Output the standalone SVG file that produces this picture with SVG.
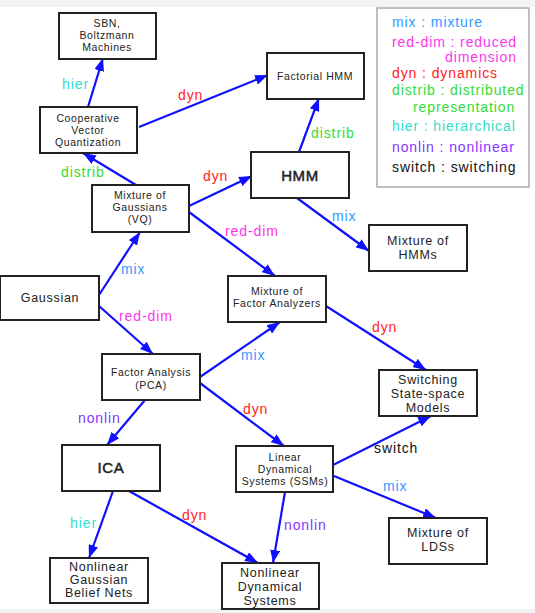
<svg xmlns="http://www.w3.org/2000/svg" width="535" height="613" viewBox="0 0 535 613">
<defs>
<marker id="ah" markerUnits="userSpaceOnUse" markerWidth="14" markerHeight="10" refX="13" refY="5" orient="auto">
<path d="M0,0 L13,5 L0,10 Z" fill="#1010ff"/>
</marker>
<style>
.box{fill:#fff;stroke:#222;stroke-width:2}
.t{font-family:"Liberation Sans",Arial,sans-serif;fill:#222;text-anchor:middle}
.s{font-size:10.5px;letter-spacing:0.6px}
.m{font-size:12.5px;letter-spacing:0.7px}
.b{font-size:15px;letter-spacing:0.6px;stroke:#222;stroke-width:0.5}
.e{stroke:#1010ff;stroke-width:2.2;fill:none;marker-end:url(#ah)}
.l{font-family:"Liberation Sans",Arial,sans-serif;font-size:14px;letter-spacing:0.9px}
.mix{fill:#3399ff}.red{fill:#ff33ee}.dyn{fill:#ff2222}.dis{fill:#33dd33}.hie{fill:#33ddcc}.non{fill:#8833ff}.sw{fill:#111}
</style>
</defs>
<rect x="0" y="0" width="535" height="613" fill="#fff"/>
<rect x="0" y="0" width="535" height="7" fill="#f2f3f5"/>
<rect x="0" y="609" width="535" height="4" fill="#f2f3f5"/>

<g id="legend">
<rect x="377" y="8" width="152" height="179" fill="#fff" stroke="#aaa" stroke-width="1.5"/>
<text class="l mix" x="392" y="27">mix : mixture</text>
<text class="l red" x="392" y="47">red-dim : reduced</text>
<text class="l red" x="445" y="62">dimension</text>
<text class="l dyn" x="392" y="78">dyn : dynamics</text>
<text class="l dis" x="392" y="95">distrib : distributed</text>
<text class="l dis" x="413" y="112">representation</text>
<text class="l hie" x="392" y="131">hier : hierarchical</text>
<text class="l non" x="392" y="152">nonlin : nonlinear</text>
<text class="l sw" x="392" y="172">switch : switching</text>
</g>

<g id="connectors">
<line class="e" x1="88" y1="107" x2="103" y2="58"/>
<line class="e" x1="139" y1="127" x2="268" y2="75"/>
<line class="e" x1="136" y1="185" x2="83" y2="153"/>
<line class="e" x1="189" y1="206" x2="252" y2="176"/>
<line class="e" x1="299" y1="152" x2="319" y2="98"/>
<line class="e" x1="297" y1="198" x2="369" y2="251"/>
<line class="e" x1="189" y1="212" x2="275" y2="276"/>
<line class="e" x1="99" y1="295" x2="140" y2="232"/>
<line class="e" x1="99" y1="306" x2="153" y2="354"/>
<line class="e" x1="200" y1="377" x2="280" y2="322"/>
<line class="e" x1="326" y1="306" x2="426" y2="370"/>
<line class="e" x1="200" y1="383" x2="284" y2="446"/>
<line class="e" x1="145" y1="400" x2="107" y2="445"/>
<line class="e" x1="113" y1="491" x2="89" y2="558"/>
<line class="e" x1="129" y1="491" x2="258" y2="563"/>
<line class="e" x1="333" y1="465" x2="431" y2="416"/>
<line class="e" x1="334" y1="476" x2="436" y2="518"/>
<line class="e" x1="285" y1="492" x2="273" y2="563"/>
<text class="l hie" x="62" y="89">hier</text>
<text class="l dyn" x="178" y="100">dyn</text>
<text class="l dis" x="61" y="177">distrib</text>
<text class="l dyn" x="203" y="181">dyn</text>
<text class="l dis" x="311" y="138">distrib</text>
<text class="l mix" x="332" y="221">mix</text>
<text class="l red" x="225" y="236">red-dim</text>
<text class="l mix" x="121" y="274">mix</text>
<text class="l red" x="119" y="321">red-dim</text>
<text class="l mix" x="241" y="360">mix</text>
<text class="l dyn" x="372" y="332">dyn</text>
<text class="l dyn" x="243" y="414">dyn</text>
<text class="l non" x="78" y="423">nonlin</text>
<text class="l hie" x="70" y="528">hier</text>
<text class="l dyn" x="182" y="520">dyn</text>
<text class="l sw" x="374" y="453">switch</text>
<text class="l mix" x="383" y="491">mix</text>
<text class="l non" x="284" y="530">nonlin</text>
</g>

<g id="sbn"><rect class="box" x="59" y="13" width="97" height="46"/>
<text class="t s" x="107" y="27">SBN,</text><text class="t s" x="107" y="39">Boltzmann</text><text class="t s" x="107" y="51">Machines</text></g>
<g id="cvq"><rect class="box" x="40" y="107" width="97" height="46"/>
<text class="t s" x="88" y="122">Cooperative</text><text class="t s" x="88" y="134">Vector</text><text class="t s" x="88" y="146">Quantization</text></g>
<g id="fhmm"><rect class="box" x="267" y="53" width="97" height="46"/>
<text class="t s" x="315" y="80">Factorial HMM</text></g>
<g id="hmm"><rect class="box" x="251" y="152" width="98" height="46"/>
<text class="t b" x="300" y="181">HMM</text></g>
<g id="mog"><rect class="box" x="92" y="185" width="97" height="47"/>
<text class="t s" x="140" y="199">Mixture of</text><text class="t s" x="140" y="211">Gaussians</text><text class="t s" x="140" y="223">(VQ)</text></g>
<g id="mhmm"><rect class="box" x="369" y="225" width="98" height="46"/>
<text class="t m" x="418" y="245">Mixture of</text><text class="t m" x="418" y="259">HMMs</text></g>
<g id="gauss"><rect class="box" x="0" y="276" width="99" height="44"/>
<text class="t m" x="50" y="302">Gaussian</text></g>
<g id="mfa"><rect class="box" x="228" y="276" width="98" height="46"/>
<text class="t s" x="277" y="295">Mixture of</text><text class="t s" x="277" y="307">Factor Analyzers</text></g>
<g id="fa"><rect class="box" x="102" y="354" width="98" height="46"/>
<text class="t s" x="151" y="376">Factor Analysis</text><text class="t s" x="151" y="389">(PCA)</text></g>
<g id="sssm"><rect class="box" x="379" y="370" width="98" height="46"/>
<text class="t m" x="428" y="384">Switching</text><text class="t m" x="428" y="398">State-space</text><text class="t m" x="428" y="412">Models</text></g>
<g id="ica"><rect class="box" x="62" y="445" width="98" height="46"/>
<text class="t b" x="111" y="473">ICA</text></g>
<g id="lds"><rect class="box" x="236" y="446" width="97" height="46"/>
<text class="t s" x="285" y="461">Linear</text><text class="t s" x="285" y="473">Dynamical</text><text class="t s" x="285" y="485">Systems (SSMs)</text></g>
<g id="mlds"><rect class="box" x="389" y="518" width="98" height="46"/>
<text class="t m" x="438" y="537">Mixture of</text><text class="t m" x="438" y="551">LDSs</text></g>
<g id="ngbn"><rect class="box" x="50" y="558" width="98" height="45"/>
<text class="t m" x="99" y="571">Nonlinear</text><text class="t m" x="99" y="584">Gaussian</text><text class="t m" x="99" y="597">Belief Nets</text></g>
<g id="nds"><rect class="box" x="222" y="563" width="97" height="46"/>
<text class="t m" x="270" y="577">Nonlinear</text><text class="t m" x="270" y="591">Dynamical</text><text class="t m" x="270" y="605">Systems</text></g>
</svg>
